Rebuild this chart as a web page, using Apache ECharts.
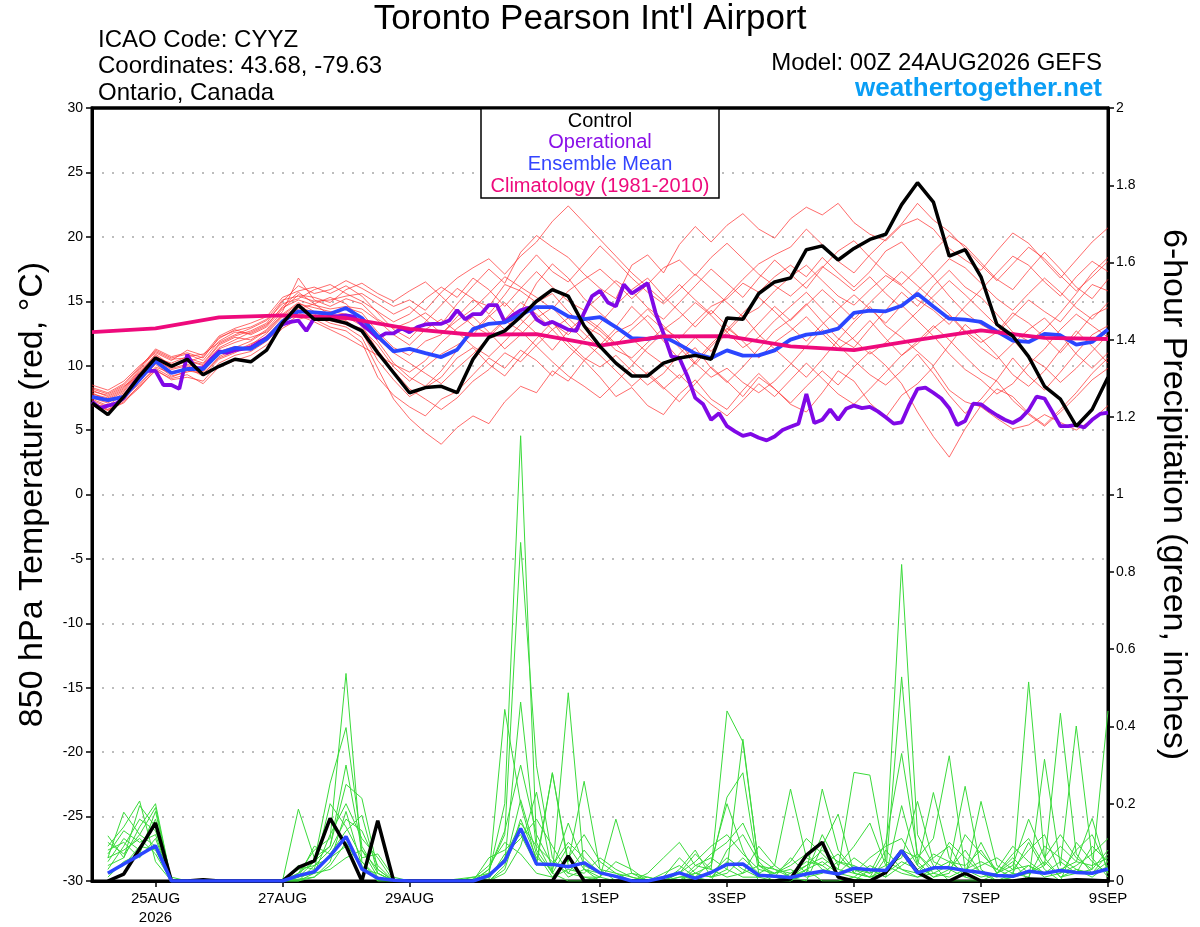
<!DOCTYPE html>
<html>
<head>
<meta charset="utf-8">
<title>Toronto Pearson Int'l Airport - GEFS</title>
<script src="https://cdn.jsdelivr.net/npm/echarts@6/dist/echarts.min.js"></script>
<style>
html, body { margin: 0; padding: 0; background: #fff; }
#chart { width: 1200px; height: 927px; }
</style>
</head>
<body>
<div id="chart"></div>
<script>
// hours after 00Z 24AUG2026
var tickHours = [24, 72, 120, 192, 240, 288, 336, 384];
var tickLabels = ['25AUG\n2026', '27AUG', '29AUG', '1SEP', '3SEP', '5SEP', '7SEP', '9SEP'];

// 850 hPa temperature, 6-hourly from 0h
var controlTemp = [
    7.1, 6.2, 7.6, 9.2,  10.6, 9.95, 10.5, 9.3,  9.95, 10.5, 10.3, 11.2,
    13.3, 14.7, 13.6, 13.6,  13.3, 12.7, 11.0, 9.45,  7.9, 8.3, 8.4, 7.9,
    10.5, 12.2, 12.7, 13.8,  15.0, 15.9, 15.4, 13.1,  11.5, 10.2, 9.2, 9.2,
    10.2, 10.6, 10.8, 10.5,  13.7, 13.6, 15.6, 16.5,  16.8, 19.0, 19.3, 18.2,
    19.1, 19.8, 20.2, 22.5,  24.2, 22.7, 18.5, 19.0,  16.9, 13.2, 12.3, 10.7,
    8.4, 7.4, 5.3, 6.6,  9.1
];
var meanTemp = [
    7.57, 7.32, 7.57, 8.92,  10.34, 9.43, 9.74, 9.74,  10.98, 11.37, 11.3, 12.07,
    13.44, 14.22, 14.14, 14.03,  14.47, 13.7, 12.28, 11.11,  11.3, 10.98, 10.67, 11.24,
    12.84, 13.25, 13.36, 13.95,  14.55, 14.55, 13.82, 13.62,  13.77, 13.0, 12.14, 12.07,
    12.27, 11.63, 10.93, 10.59,  11.19, 10.78, 10.8, 11.19,  12.02, 12.41, 12.54, 12.87,
    14.09, 14.27, 14.22, 14.65,  15.58, 14.6, 13.65, 13.57,  13.39, 12.66, 11.94, 11.84,
    12.46, 12.36, 11.63, 11.84,  12.8
];
// operational run, 3-hourly from 0h
var operTemp = [
    7.2, 6.7, 6.9, 7.05, 7.5, 8.4, 9.2, 9.6,
    9.6, 8.5, 8.5, 8.2, 10.85, 9.8, 9.8, 10.5,
    11.1, 11.0, 11.2, 11.3, 11.4, 11.8, 12.15, 12.7,
    13.2, 13.4, 13.5, 12.7, 13.7, 13.7, 13.8, 13.85,
    13.9, 13.8, 13.2, 12.7, 12.15, 12.5, 12.5, 12.9,
    12.6, 13.0, 13.2, 13.25, 13.25, 13.5, 14.3, 13.6,
    14.0, 14.0, 14.7, 14.7, 13.4, 13.9, 14.3, 14.5,
    13.6, 13.2, 13.4, 13.1, 12.8, 12.7, 14.1, 15.4,
    15.8, 14.9, 14.6, 16.3, 15.6, 16.0, 16.4, 14.1,
    12.5, 10.7, 10.6, 9.2, 7.5, 7.0, 5.8, 6.3,
    5.3, 4.9, 4.55, 4.7, 4.4, 4.2, 4.5, 5.0,
    5.25, 5.5, 7.8, 5.55, 5.8, 6.6, 5.8, 6.65,
    6.9, 6.7, 6.8, 6.45, 6.0, 5.5, 5.6, 7.0,
    8.2, 8.3, 7.9, 7.45, 6.7, 5.4, 5.7, 7.05,
    7.0, 6.55, 6.15, 5.8, 5.55, 5.9, 6.55, 7.6,
    7.45, 6.4, 5.3, 5.3, 5.4, 5.2, 5.8, 6.25,
    6.35
];
// climatology, daily
var climoTemp = [12.6, 12.9, 13.75, 13.9, 13.7, 12.85, 12.4, 12.45, 11.55,
    12.27, 12.3, 11.5, 11.2, 12.0, 12.74, 12.15, 12.07];

// ensemble members, 6-hourly from 0h
var tempMembers = [
    [7.8, 7.5, 8.2, 9.6, 10.8, 9.9, 10.4, 10.1, 11.6, 12.2, 12.0, 12.8, 14.2, 16.8, 15.1, 14.6,
     15.2, 14.8, 13.6, 12.9, 13.4, 14.1, 13.2, 14.8, 16.2, 17.5, 16.4, 18.8, 20.1, 19.2, 18.4, 17.1,
     16.0, 15.2, 17.8, 18.6, 17.2, 19.4, 20.8, 19.6, 20.9, 21.8, 20.6, 19.9, 21.4, 22.3, 21.7, 22.6,
     21.1, 20.2, 19.7, 20.9, 21.4, 20.6, 19.1, 18.2, 17.4, 18.9, 20.3, 19.5, 18.1, 16.8, 18.2, 19.6, 20.7],
    [7.0, 6.8, 7.3, 8.4, 9.6, 9.0, 9.3, 8.6, 9.9, 10.4, 10.8, 11.6, 12.9, 13.6, 13.9, 13.3,
     13.0, 12.2, 9.8, 7.4, 5.9, 4.8, 3.9, 5.2, 6.1, 5.5, 7.2, 8.4, 7.9, 9.6, 8.8, 10.4,
     9.1, 7.6, 8.3, 6.9, 6.2, 7.8, 8.9, 7.4, 6.6, 8.1, 9.4, 8.2, 7.0, 6.4, 7.9, 9.6,
     8.8, 7.1, 6.0, 7.7, 8.6, 9.9, 8.1, 7.2, 6.8, 5.9, 5.1, 5.4, 6.2, 5.6, 5.0, 5.8, 6.9],
    [7.5, 7.1, 7.9, 9.1, 10.5, 9.7, 10.0, 9.5, 11.1, 11.5, 11.2, 12.3, 13.6, 14.4, 14.8, 13.9,
     14.5, 14.1, 12.6, 11.4, 10.8, 11.9, 12.4, 13.8, 15.1, 14.6, 16.3, 15.8, 14.9, 15.6, 14.2, 13.1,
     12.4, 11.2, 10.6, 11.8, 12.9, 12.1, 13.4, 14.6, 15.2, 16.4, 15.7, 16.9, 17.8, 16.9, 18.4, 17.2,
     16.1, 17.3, 18.9, 19.6, 18.2, 16.9, 15.4, 14.1, 13.2, 12.5, 13.8, 15.1, 14.2, 13.4, 14.9, 16.3, 15.8],
    [8.3, 7.9, 8.6, 9.9, 11.2, 10.6, 10.9, 10.4, 11.9, 12.6, 12.5, 13.1, 14.6, 15.7, 14.8, 15.3,
     14.8, 13.6, 11.9, 10.2, 9.1, 8.4, 9.6, 11.2, 12.7, 13.9, 12.8, 14.2, 16.4, 17.9, 16.8, 15.2,
     14.1, 13.0, 14.6, 13.4, 11.9, 10.5, 11.4, 9.8, 8.7, 9.9, 11.3, 12.7, 13.6, 14.8, 13.4, 12.1,
     11.4, 12.9, 14.3, 15.7, 14.6, 16.2, 17.4, 16.1, 15.3, 14.0, 12.6, 11.9, 12.8, 14.1, 15.6, 17.2, 18.4],
    [7.2, 6.6, 7.4, 8.8, 10.1, 9.2, 9.5, 9.9, 10.9, 11.4, 11.9, 12.7, 14.0, 14.9, 14.2, 14.0,
     13.8, 13.1, 11.2, 9.6, 8.2, 7.4, 6.6, 7.5, 8.8, 9.7, 11.0, 10.3, 11.6, 12.8, 13.7, 12.5,
     11.3, 12.6, 13.2, 14.4, 13.1, 11.8, 10.2, 9.1, 9.8, 8.7, 7.9, 8.8, 10.1, 11.5, 12.8, 11.6,
     10.4, 9.3, 8.5, 9.6, 10.9, 9.4, 7.7, 6.3, 7.4, 8.9, 10.6, 9.2, 8.1, 9.5, 11.0, 12.4, 13.1],
    [8.0, 7.7, 8.4, 9.3, 10.6, 10.2, 10.7, 10.9, 11.8, 12.4, 12.9, 13.5, 14.8, 15.2, 15.9, 16.3,
     15.6, 15.0, 14.2, 13.4, 14.0, 15.2, 16.1, 15.3, 16.8, 15.9, 14.6, 16.0, 17.3, 16.1, 15.0, 14.3,
     15.4, 16.6, 15.8, 14.5, 13.6, 14.9, 16.2, 17.5, 16.4, 15.3, 16.8, 18.2, 17.1, 16.0, 17.6, 18.9,
     19.7, 18.4, 17.2, 16.3, 17.5, 18.9, 20.1, 19.3, 18.0, 16.7, 15.9, 17.4, 18.8, 17.5, 16.1, 15.2, 16.7],
    [7.4, 6.9, 7.8, 9.0, 10.3, 9.5, 9.8, 9.2, 10.5, 11.0, 11.6, 12.5, 13.8, 14.6, 14.1, 13.7,
     13.5, 12.6, 10.4, 8.9, 7.6, 8.3, 9.1, 10.6, 11.4, 10.1, 9.2, 10.7, 12.1, 13.4, 11.8, 10.6,
     9.9, 10.8, 9.6, 8.5, 9.4, 10.9, 12.2, 11.1, 12.6, 13.9, 12.4, 11.3, 10.2, 9.1, 10.5, 12.0,
     13.4, 14.6, 13.1, 12.2, 11.1, 10.0, 11.6, 13.2, 12.1, 10.8, 9.3, 8.4, 9.6, 11.2, 12.7, 11.5, 10.2],
    [7.9, 7.3, 8.0, 9.4, 10.9, 10.0, 10.3, 10.7, 12.1, 12.8, 12.4, 13.0, 14.4, 15.5, 15.3, 14.9,
     15.9, 16.4, 15.6, 15.0, 15.8, 16.5, 15.4, 14.2, 13.1, 12.4, 13.6, 14.9, 14.0, 12.8, 11.5, 10.4,
     11.6, 12.9, 12.1, 11.0, 10.1, 9.0, 10.3, 11.7, 12.9, 12.0, 13.3, 14.6, 13.5, 14.7, 15.9, 14.8,
     13.6, 14.9, 16.1, 17.3, 16.2, 15.1, 14.0, 12.7, 11.8, 12.6, 14.1, 13.3, 12.2, 11.0, 12.4, 13.9, 14.5],
    [7.3, 6.8, 7.5, 8.6, 9.9, 9.4, 9.9, 9.3, 10.7, 11.3, 11.4, 12.0, 13.3, 14.1, 13.6, 13.0,
     12.7, 11.8, 9.1, 7.7, 6.8, 6.1, 7.4, 8.0, 9.3, 10.6, 9.8, 11.2, 10.4, 9.2, 10.6, 11.9,
     10.8, 9.6, 8.4, 9.5, 8.3, 7.2, 8.6, 9.9, 8.8, 7.6, 9.1, 8.2, 7.1, 8.4, 9.6, 8.5,
     9.9, 11.1, 10.0, 8.6, 6.4, 4.5, 2.9, 5.1, 6.9, 8.2, 7.6, 6.3, 5.4, 6.6, 7.9, 9.4, 10.6],
    [8.5, 8.1, 8.8, 10.0, 11.0, 10.4, 11.2, 10.8, 12.3, 12.9, 13.3, 13.8, 15.3, 15.8, 16.1, 15.6,
     16.2, 15.4, 14.1, 12.8, 12.1, 13.4, 14.7, 16.0, 15.2, 14.0, 15.5, 17.2, 18.6, 17.3, 16.5, 17.9,
     19.3, 18.1, 16.8, 15.7, 14.8, 15.9, 17.1, 16.0, 14.9, 13.8, 14.5, 15.8, 16.9, 17.8, 16.6, 15.4,
     14.7, 15.9, 17.0, 16.2, 15.1, 14.3, 13.2, 14.6, 15.9, 17.2, 18.5, 17.8, 16.5, 15.4, 16.9, 18.1, 17.3],
    [7.1, 6.5, 7.2, 8.3, 9.7, 8.9, 9.1, 8.8, 10.2, 10.8, 11.1, 11.9, 13.1, 13.9, 13.4, 12.8,
     12.2, 11.5, 10.8, 10.1, 9.5, 10.4, 11.8, 12.9, 13.8, 12.6, 11.3, 12.4, 13.7, 14.5, 13.2, 12.0,
     13.3, 14.7, 15.9, 16.8, 15.4, 14.2, 13.0, 14.3, 13.1, 11.9, 10.6, 11.8, 12.7, 13.8, 12.5, 11.3,
     12.2, 13.5, 12.1, 10.8, 11.7, 12.9, 13.9, 12.6, 11.4, 10.5, 11.7, 12.8, 13.7, 12.4, 10.9, 9.8, 11.0],
    [7.6, 7.2, 7.7, 9.2, 10.4, 9.8, 10.1, 9.7, 11.3, 11.8, 12.2, 12.6, 13.9, 14.8, 14.5, 14.2,
     14.0, 13.4, 12.1, 11.0, 10.2, 9.4, 8.6, 9.8, 10.9, 12.2, 13.5, 12.7, 11.5, 10.3, 9.2, 8.4,
     7.5, 8.7, 10.0, 11.4, 12.6, 11.4, 10.1, 11.5, 12.8, 14.1, 15.3, 14.2, 13.0, 11.9, 13.2, 14.4,
     15.5, 14.4, 13.3, 14.7, 13.5, 12.3, 10.9, 9.7, 8.9, 7.8, 8.6, 10.1, 11.3, 12.8, 14.0, 13.1, 12.2],
    [8.1, 7.6, 8.3, 9.7, 11.1, 10.5, 10.6, 10.2, 11.7, 12.3, 12.7, 13.3, 15.0, 16.2, 15.6, 15.9,
     16.6, 16.0, 15.3, 14.6, 15.1, 14.3, 15.7, 16.8, 17.6, 18.3, 17.1, 18.5, 19.6, 21.2, 22.4, 21.1,
     19.8, 18.5, 17.2, 16.1, 15.0, 16.3, 15.1, 14.0, 15.4, 16.7, 17.9, 18.6, 19.2, 20.6, 19.4, 18.1,
     17.2, 18.6, 19.8, 21.0, 22.6, 21.3, 20.4, 19.1, 17.8, 16.6, 17.9, 19.2, 18.3, 17.0, 15.8, 16.9, 18.1],
    [7.7, 7.4, 8.1, 9.5, 10.7, 10.1, 10.4, 10.0, 11.4, 12.0, 12.6, 13.2, 14.5, 15.1, 14.7, 14.4,
     14.6, 14.4, 13.5, 12.4, 11.6, 12.8, 13.6, 12.6, 11.5, 10.7, 11.9, 13.2, 14.5, 13.3, 12.4, 13.6,
     12.7, 11.6, 12.8, 13.9, 12.8, 13.7, 14.9, 13.9, 12.6, 11.4, 12.2, 13.5, 14.6, 15.7, 14.4, 13.2,
     12.0, 10.9, 11.8, 13.0, 14.2, 15.4, 16.6, 15.5, 14.3, 13.1, 12.0, 10.7, 9.9, 8.7, 9.8, 11.1, 12.4],
    [6.9, 6.6, 7.1, 8.5, 9.8, 9.1, 9.6, 9.4, 10.6, 11.1, 11.7, 12.2, 13.5, 14.2, 14.0, 13.5,
     13.2, 12.9, 11.6, 9.9, 8.8, 9.9, 10.9, 11.6, 12.4, 13.8, 14.9, 13.6, 12.5, 11.2, 12.7, 13.8,
     12.9, 11.7, 10.4, 9.3, 8.2, 9.3, 8.1, 7.0, 6.1, 7.3, 8.6, 7.6, 8.9, 10.2, 9.0, 7.8,
     7.0, 8.2, 9.5, 10.8, 11.9, 13.1, 12.0, 10.7, 9.5, 8.8, 7.3, 6.2, 5.3, 6.4, 7.6, 8.9, 9.8],
    [8.2, 7.8, 8.5, 9.8, 11.3, 10.7, 11.0, 10.6, 12.2, 12.7, 13.0, 13.6, 15.1, 15.4, 15.0, 15.1,
     15.4, 15.6, 14.8, 14.0, 14.6, 13.6, 12.5, 13.5, 14.4, 15.6, 16.9, 16.1, 15.3, 14.4, 15.8, 16.7,
     17.5, 16.4, 15.2, 16.3, 17.6, 18.2, 17.0, 18.4, 19.5, 18.3, 17.1, 16.2, 15.4, 16.5, 17.7, 16.8,
     15.8, 16.9, 15.6, 14.5, 15.8, 17.0, 18.3, 17.6, 16.4, 15.2, 14.3, 15.6, 16.8, 15.7, 14.5, 13.6, 14.9]
];

// 6-hour precipitation (inches), 6-hourly from 6h
var controlPrecip = [
    0, 0.018, 0.083, 0.15,  0, 0, 0.003, 0,  0, 0, 0, 0,  0.035, 0.052, 0.162, 0.091,
    0, 0.156, 0, 0,  0, 0, 0, 0,  0, 0, 0, 0,  0, 0.065, 0, 0,
    0, 0, 0, 0,  0, 0, 0, 0,  0, 0, 0, 0.005,  0.067, 0.1, 0.01, 0,
    0, 0.022, 0.078, 0.023,  0, 0, 0.02, 0,  0, 0, 0.005, 0.004,  0, 0.003, 0.002, 0
];
var meanPrecip = [
    0.02, 0.044, 0.067, 0.091,  0, 0, 0, 0,  0, 0, 0, 0,  0.014, 0.024, 0.065, 0.115,
    0.031, 0.007, 0.002, 0,  0, 0, 0, 0,  0.014, 0.052, 0.136, 0.044,  0.043, 0.037, 0.047, 0.021,
    0.012, 0, 0, 0.009,  0.021, 0.007, 0.022, 0.043,  0.044, 0.015, 0.012, 0.009,  0.018, 0.025, 0.018, 0.033,
    0.029, 0.027, 0.078, 0.021,  0.034, 0.034, 0.027, 0.022,  0.014, 0.012, 0.025, 0.02,  0.027, 0.022, 0.02, 0.031
];
var precipMembers = [
    [0.06, 0.178, 0.12, 0.09, 0, 0, 0, 0, 0, 0, 0, 0, 0.02, 0.08, 0.11, 0.537,
     0.05, 0, 0, 0, 0, 0, 0, 0, 0.02, 0.2, 1.152, 0.1, 0.02, 0, 0, 0.01,
     0, 0, 0, 0, 0, 0.01, 0.05, 0.2, 0.08, 0, 0, 0, 0.03, 0, 0, 0.01,
     0, 0.06, 0.819, 0.12, 0.04, 0, 0, 0, 0, 0.02, 0.1, 0.03, 0, 0.1, 0.05, 0.02],
    [0.117, 0.06, 0.195, 0.14, 0, 0, 0.005, 0, 0, 0, 0, 0, 0.01, 0.05, 0.253, 0.397,
     0.09, 0.02, 0, 0, 0, 0, 0, 0, 0.03, 0.12, 0.876, 0.298, 0.06, 0.01, 0.03, 0,
     0, 0, 0.02, 0.06, 0.1, 0.04, 0.03, 0.44, 0.36, 0.04, 0.01, 0.06, 0.02, 0.238, 0.08, 0.03,
     0.01, 0.02, 0.528, 0.05, 0.01, 0.03, 0.08, 0.02, 0, 0.01, 0.515, 0.06, 0.01, 0.02, 0.03, 0.44],
    [0.09, 0.14, 0.207, 0.05, 0, 0, 0, 0, 0, 0, 0, 0, 0.186, 0.06, 0.09, 0.25,
     0.214, 0.03, 0, 0, 0, 0, 0, 0, 0.01, 0.444, 0.2, 0.05, 0.28, 0.04, 0.01, 0,
     0, 0, 0, 0, 0.02, 0.07, 0.03, 0.01, 0.02, 0.09, 0.04, 0.238, 0.06, 0.04, 0.01, 0,
     0.03, 0.01, 0.195, 0.04, 0.229, 0.06, 0.01, 0, 0.02, 0.05, 0, 0.315, 0.04, 0.401, 0.06, 0.01],
    [0.03, 0.09, 0.16, 0.13, 0.01, 0, 0, 0, 0, 0, 0, 0, 0.04, 0.03, 0.2, 0.14,
     0.06, 0.07, 0.01, 0, 0, 0, 0, 0.01, 0.02, 0.05, 0.463, 0.08, 0.02, 0.487, 0.03, 0.01,
     0.16, 0.02, 0, 0, 0, 0.02, 0.04, 0.217, 0.28, 0.02, 0, 0.01, 0, 0.09, 0.173, 0.02,
     0.01, 0.03, 0.08, 0.06, 0.11, 0.324, 0.03, 0.01, 0.02, 0.06, 0.02, 0.04, 0.434, 0.07, 0.02, 0.05],
    [0.05, 0.11, 0.08, 0.16, 0, 0, 0, 0, 0, 0, 0, 0, 0, 0.02, 0.12, 0.2,
     0.11, 0.06, 0, 0, 0, 0, 0, 0, 0.06, 0.08, 0.12, 0.04, 0.28, 0.05, 0.258, 0.03,
     0.02, 0.01, 0, 0, 0.03, 0.08, 0.01, 0.05, 0.02, 0.04, 0.03, 0.01, 0.04, 0.06, 0.03, 0.281,
     0.274, 0.05, 0.03, 0.01, 0.02, 0.04, 0.245, 0.03, 0, 0.01, 0.04, 0.02, 0.03, 0.05, 0.162, 0.02],
    [0.1, 0.07, 0.12, 0.19, 0, 0, 0, 0, 0, 0, 0, 0, 0.01, 0.09, 0.07, 0.13,
     0.17, 0.02, 0, 0, 0, 0, 0, 0, 0, 0.03, 0.16, 0.06, 0.03, 0.15, 0.04, 0.02,
     0.01, 0, 0, 0.01, 0.06, 0.02, 0.01, 0.03, 0.367, 0.04, 0.02, 0.03, 0.01, 0.02, 0.05, 0.04,
     0.02, 0.04, 0.06, 0.206, 0.05, 0.03, 0.01, 0.206, 0.04, 0.02, 0.01, 0.09, 0.06, 0.03, 0.02, 0.07],
    [0.02, 0.04, 0.09, 0.08, 0, 0, 0, 0, 0, 0, 0, 0, 0, 0.01, 0.05, 0.18,
     0.04, 0, 0, 0, 0, 0, 0, 0, 0, 0.02, 0.09, 0.23, 0.02, 0.09, 0.03, 0.02,
     0.01, 0.02, 0.01, 0, 0, 0.04, 0.06, 0.03, 0.01, 0.01, 0.02, 0.04, 0.07, 0.03, 0.02, 0.01,
     0.04, 0.02, 0.05, 0.03, 0.06, 0.09, 0.02, 0.04, 0.06, 0.03, 0.04, 0.01, 0.02, 0.04, 0.07, 0.11],
    [0.07, 0.13, 0.1, 0.12, 0, 0, 0, 0, 0, 0, 0, 0, 0.03, 0.04, 0.06, 0.09,
     0.05, 0.01, 0, 0, 0, 0, 0, 0.005, 0.04, 0.1, 0.07, 0.02, 0.01, 0.06, 0.12, 0.05,
     0.02, 0, 0.01, 0, 0.01, 0.01, 0.02, 0.06, 0.03, 0.01, 0, 0.02, 0.05, 0.04, 0.07, 0.02,
     0.01, 0.08, 0.03, 0.02, 0.07, 0.05, 0.04, 0.08, 0.02, 0.07, 0.11, 0.04, 0.09, 0.05, 0.04, 0.06],
    [0.04, 0.06, 0.14, 0.2, 0, 0, 0, 0, 0, 0, 0, 0, 0.01, 0.02, 0.03, 0.06,
     0.08, 0.01, 0, 0, 0, 0, 0, 0, 0.01, 0.06, 0.15, 0.09, 0.05, 0.02, 0.08, 0.03,
     0, 0, 0, 0.02, 0.04, 0.01, 0, 0.08, 0.12, 0.05, 0.01, 0, 0.02, 0.12, 0.04, 0.09,
     0.15, 0.04, 0.02, 0.01, 0.03, 0.1, 0.06, 0.02, 0.01, 0.03, 0.08, 0.12, 0.02, 0.08, 0.12, 0.03],
    [0.08, 0.1, 0.06, 0.11, 0, 0, 0, 0, 0, 0, 0, 0, 0.005, 0.01, 0.04, 0.1,
     0.03, 0.02, 0, 0, 0, 0, 0.005, 0.01, 0, 0.04, 0.21, 0.07, 0.01, 0.03, 0.02, 0.06,
     0.03, 0.01, 0, 0, 0.01, 0.02, 0.01, 0.02, 0.06, 0.02, 0.04, 0.01, 0.03, 0.05, 0.02, 0.06,
     0.03, 0.01, 0.04, 0.07, 0.02, 0.01, 0.03, 0.05, 0.03, 0.01, 0.02, 0.05, 0.01, 0.03, 0.01, 0.04],
    [0.01, 0.05, 0.07, 0.18, 0, 0, 0, 0, 0, 0, 0, 0, 0, 0.04, 0.08, 0.16,
     0.13, 0.04, 0, 0, 0, 0, 0, 0, 0.005, 0.07, 0.11, 0.16, 0.09, 0.02, 0.01, 0.01,
     0.05, 0.03, 0, 0, 0.02, 0.05, 0.09, 0.12, 0.07, 0.03, 0.02, 0.05, 0.11, 0.07, 0.03, 0.02,
     0.06, 0.09, 0.11, 0.04, 0.01, 0.02, 0.12, 0.07, 0.03, 0.09, 0.05, 0.02, 0.05, 0.02, 0.09, 0.05],
    [0.06, 0.08, 0.11, 0.07, 0, 0, 0, 0, 0, 0, 0, 0, 0.02, 0.05, 0.09, 0.3,
     0.08, 0.03, 0, 0, 0, 0, 0, 0, 0.03, 0.13, 0.3, 0.12, 0.04, 0.1, 0.06, 0.02,
     0.01, 0, 0, 0, 0, 0.03, 0.07, 0.1, 0.15, 0.06, 0.03, 0.02, 0.04, 0.08, 0.05, 0.03,
     0.02, 0.1, 0.33, 0.07, 0.03, 0.05, 0.02, 0.1, 0.02, 0.04, 0.16, 0.06, 0.12, 0.06, 0.03, 0.08]
];

var FONT = 'Liberation Sans';

// pair each value with its forecast hour
function withHours(values, step, start) {
    return values.map(function (v, i) {
        return [start + i * step, v];
    });
}

function line(data, axis, color, width, z) {
    return {
        type: 'line',
        yAxisIndex: axis,
        data: data,
        showSymbol: false,
        silent: true,
        z: z,
        lineStyle: { color: color, width: width },
        emphasis: { disabled: true }
    };
}

var series = [];
tempMembers.forEach(function (m) {
    series.push(line(withHours(m, 6, 0), 0, 'rgba(255,50,50,0.72)', 1, 2));
});
precipMembers.forEach(function (m) {
    series.push(line(withHours(m, 6, 6), 1, '#3ada3a', 1, 2));
});
series.push(line(withHours(controlPrecip, 6, 6), 1, '#000', 3.5, 5));
series.push(line(withHours(meanPrecip, 6, 6), 1, '#2b46ff', 3.5, 6));
series.push(line(withHours(operTemp, 3, 0), 0, '#8008e6', 3.8, 4));
series.push(line(withHours(meanTemp, 6, 0), 0, '#2b46ff', 3.8, 5));
series.push(line(withHours(climoTemp, 24, 0), 0, '#ee0a7c', 3.8, 6));
series.push(line(withHours(controlTemp, 6, 0), 0, '#000', 3.5, 7));

function txt(x, y, s, size, color, align, bold) {
    return {
        type: 'text', x: x, y: y, z: 120,
        style: {
            text: s, fill: color,
            font: (bold ? 'bold ' : '') + size + 'px "' + FONT + '"',
            textAlign: align, textVerticalAlign: 'middle'
        }
    };
}

var chart = echarts.init(document.getElementById('chart'));

var option = {
    animation: false,
    backgroundColor: '#fff',
    textStyle: { fontFamily: FONT },
    grid: {
        left: 92, right: 92, top: 108, bottom: 45,
        show: true, borderColor: '#000', borderWidth: 3, backgroundColor: 'transparent'
    },
    xAxis: {
        type: 'value', min: 0, max: 384,
        axisLine: { show: true, onZero: false, lineStyle: { color: '#000', width: 3 } },
        axisTick: { show: true, customValues: tickHours, length: 6, lineStyle: { color: '#000', width: 1.5 } },
        axisLabel: {
            customValues: tickHours, color: '#000', fontSize: 15, lineHeight: 19, margin: 8,
            formatter: function (v) {
                var k = tickHours.indexOf(v);
                return k >= 0 ? tickLabels[k] : '';
            }
        },
        splitLine: { show: false }
    },
    yAxis: [{
        type: 'value', min: -30, max: 30, interval: 5, position: 'left',
        axisLine: { show: true, lineStyle: { color: '#000', width: 3 } },
        axisTick: { show: true, length: 6, lineStyle: { color: '#000', width: 1.5 } },
        axisLabel: { color: '#000', fontSize: 14, margin: 9 },
        splitLine: {
            show: true, showMinLine: false, showMaxLine: false,
            lineStyle: { color: '#a8a8a8', width: 1.5, type: [2, 8] }
        },
        name: '850 hPa Temperature (red, °C)',
        nameLocation: 'middle', nameRotate: 90, nameGap: 42,
        nameTextStyle: { fontSize: 34, color: '#000', fontFamily: FONT }
    }, {
        type: 'value', min: 0, max: 2, interval: 0.2, position: 'right',
        axisLine: { show: true, lineStyle: { color: '#000', width: 3 } },
        axisTick: { show: true, length: 6, lineStyle: { color: '#000', width: 1.5 } },
        axisLabel: { color: '#000', fontSize: 14, margin: 8 },
        splitLine: { show: false },
        name: '6-hour Precipitation (green, inches)',
        nameLocation: 'middle', nameRotate: -90, nameGap: 48,
        nameTextStyle: { fontSize: 34, color: '#000', fontFamily: FONT }
    }],
    graphic: [
        txt(590, 19, "Toronto Pearson Int'l Airport", 35, '#000', 'center'),
        txt(98, 40, 'ICAO Code: CYYZ', 24, '#000', 'left'),
        txt(98, 66, 'Coordinates: 43.68, -79.63', 24, '#000', 'left'),
        txt(98, 93, 'Ontario, Canada', 24, '#000', 'left'),
        txt(1102, 63, 'Model: 00Z 24AUG2026 GEFS', 24, '#000', 'right'),
        txt(1102, 89, 'weathertogether.net', 26, '#0a9ef5', 'right', true),
        {
            type: 'line', z: 115,
            shape: { x1: 91, y1: 108, x2: 1109, y2: 108 },
            style: { stroke: '#000', lineWidth: 3 }
        },
        {
            type: 'rect', z: 110,
            shape: { x: 481, y: 108, width: 238, height: 90 },
            style: { fill: '#fff', stroke: '#000', lineWidth: 1.5 }
        },
        txt(600, 121, 'Control', 20, '#000', 'center'),
        txt(600, 142, 'Operational', 20, '#8a10e8', 'center'),
        txt(600, 164, 'Ensemble Mean', 20, '#3344ff', 'center'),
        txt(600, 186, 'Climatology (1981-2010)', 20, '#ee0a7c', 'center')
    ],
    series: series
};

chart.setOption(option);
</script>
</body>
</html>
